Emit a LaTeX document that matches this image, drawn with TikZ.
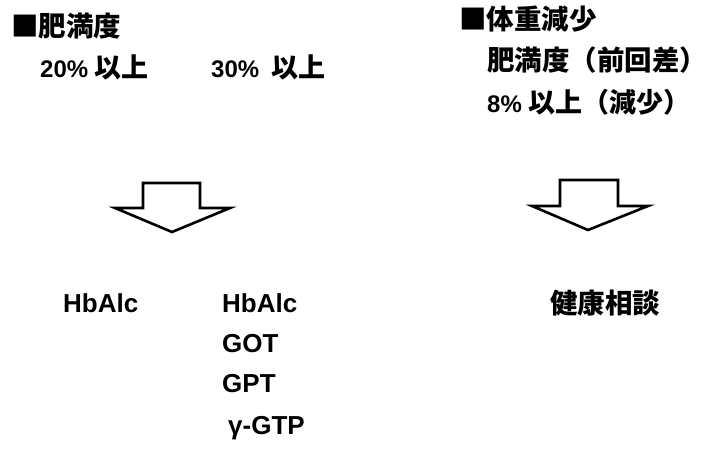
\documentclass[tikz,border=0pt]{standalone}
\usepackage{fontspec}
\setmainfont{Liberation Sans}
\newfontfamily\cjk{Noto Sans CJK JP}
\newcommand\jpt[1]{{\fontsize{27}{32}\selectfont\cjk\bfseries #1}}
\begin{document}
\begin{tikzpicture}[x=1pt,y=-1pt,
  jp/.style={anchor=base west, inner sep=0pt, font=\fontsize{27.5}{32}\selectfont\cjk\bfseries},
  mix/.style={anchor=base west, inner sep=0pt, font=\fontsize{24}{30}\selectfont\bfseries},
  lat/.style={anchor=base west, inner sep=0pt, font=\fontsize{26}{30}\selectfont\bfseries},
  blockarrow/.style={draw=black, line width=2.6pt, line join=miter, fill=white}]
\useasboundingbox (0,0) rectangle (714,468);
% headers
\node[jp] (h1) at (11,37) {■肥満度};
\node[mix] (a1) at (40,78) {20\% \jpt{以上}};
\node[mix] (a2) at (211,78) {30\%\hspace{12pt}\jpt{以上}};
\node[jp] (h2) at (459,30) {■体重減少};
\node[jp] (b1) at (487,71) {肥満度（前回差）};
\node[mix] (b2) at (487,113) {8\% \jpt{以上（減少）}};
% block arrows
\draw[blockarrow] (143,183) -- (200,183) -- (200,208) -- (230,208) -- (172,232)
  -- (115,208) -- (143,208) -- cycle;
\draw[blockarrow] (560,180) -- (618,180) -- (618,206) -- (648,206) -- (588,230)
  -- (532,206) -- (560,206) -- cycle;
% results
\node[lat] (c1) at (63,312) {HbAlc};
\node[lat] (d1) at (222,312) {HbAlc};
\node[lat] (d2) at (222,352) {GOT};
\node[lat] (d3) at (222,392) {GPT};
\node[lat] (d4) at (228,434) {γ-GTP};
\node[jp] (e1) at (550,313) {健康相談};
\end{tikzpicture}
\end{document}
